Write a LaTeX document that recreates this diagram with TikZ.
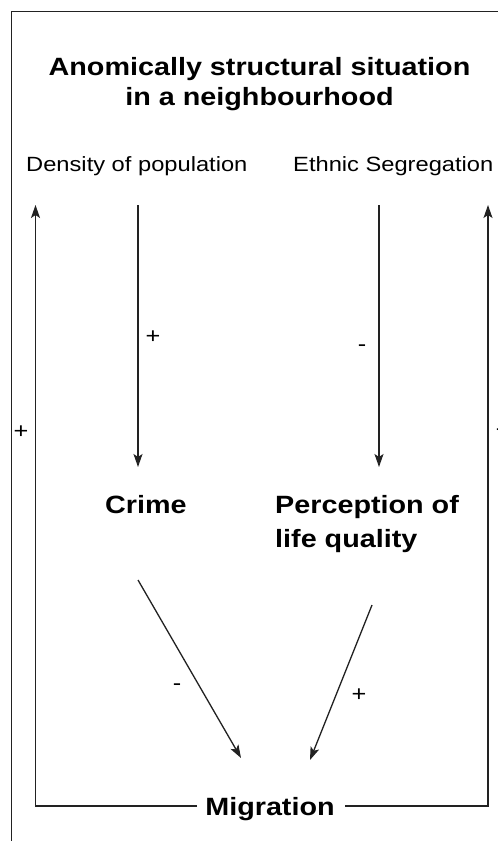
\documentclass[tikz,border=0pt]{standalone}
\usepackage{fontspec}
\setmainfont[FakeStretch=1.15]{Liberation Sans}
\usetikzlibrary{arrows.meta}
\definecolor{ln}{HTML}{222222}
\tikzset{
  conn/.style={draw=ln, line width=1.3pt, -{Stealth[length=13pt,width=9pt,inset=3pt]}},
  plain/.style={draw=ln, line width=1.3pt},
  frame/.style={draw=ln, line width=1pt},
  boldtxt/.style={font=\fontsize{25}{30}\selectfont\bfseries, inner sep=0pt},
  regtxt/.style={font=\fontsize{20.6}{24}\selectfont, inner sep=0pt},
  sign/.style={font=\fontsize{22}{26}\selectfont, inner sep=0pt}
}
\begin{document}
\begin{tikzpicture}[x=1pt,y=-1pt]
\useasboundingbox (0,0) rectangle (498,841);
\fill[white] (0,0) rectangle (498,841);
% frame (cropped)
\draw[frame] (11.5,841) -- (11.5,11.5) -- (498,11.5);
% titles
\node[boldtxt, anchor=base] (t1) at (259.5,75) {Anomically structural situation};
\node[boldtxt, anchor=base] (t2) at (259.5,105) {in a neighbourhood};
\node[regtxt, anchor=base west] (dens) at (26,171) {Density of population};
\node[regtxt, anchor=base west] (eth) at (293,171) {Ethnic Segregation};
% middle nodes
\node[boldtxt, anchor=base west] (crime) at (105,513) {Crime};
\node[boldtxt, anchor=base west] (perc1) at (275,513) {Perception of};
\node[boldtxt, anchor=base west] (perc2) at (275,547) {life quality};
\node[boldtxt, anchor=base] (mig) at (270,815) {Migration};
% coordinates
\coordinate (a1s) at (138,205);
\coordinate (a1e) at (138,467);
\coordinate (a2s) at (379,205);
\coordinate (a2e) at (379,467);
\coordinate (d1s) at (138,580);
\coordinate (d1e) at (241,758);
\coordinate (d2s) at (372,605);
\coordinate (d2e) at (310,760);
\coordinate (mL) at (197,806);
\coordinate (mR) at (345,806);
\coordinate (lb) at (35.5,806);
\coordinate (lt) at (35.5,205);
\coordinate (rb) at (488,806);
\coordinate (rt) at (488,205);
% connectors
\draw[conn] (a1s) -- (a1e);
\draw[conn] (a2s) -- (a2e);
\draw[conn] (d1s) -- (d1e);
\draw[conn] (d2s) -- (d2e);
\draw[conn] (mL) -- (lb) -- (lt);
\draw[conn] (mR) -- (rb) -- (rt);
% signs
\node[sign] (s1) at (153,337) {+};
\node[sign] (s2) at (362,348) {-};
\node[sign] (s3) at (177,687) {-};
\node[sign] (s4) at (359,695) {+};
\node[sign] (s5) at (21,432) {+};
\node[sign] (s6) at (500,432) {-};
\end{tikzpicture}
\end{document}
